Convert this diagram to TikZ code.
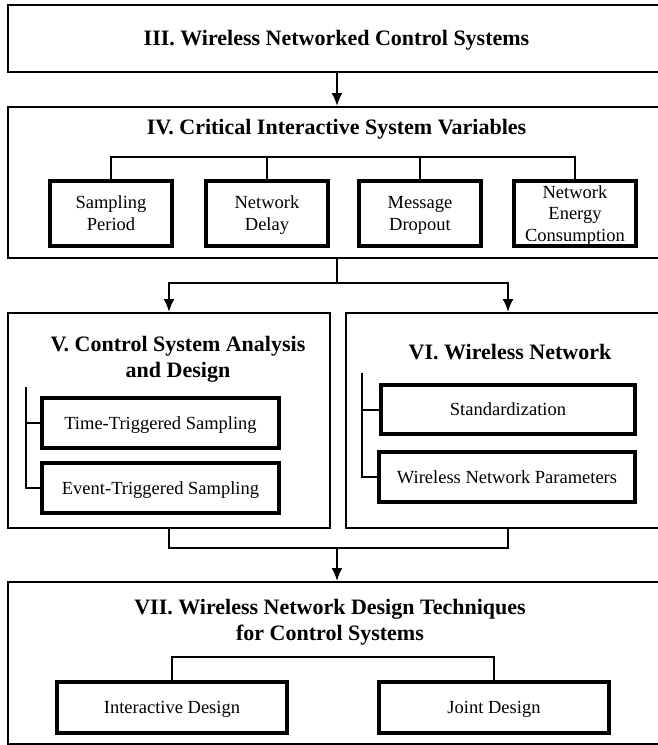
\documentclass[tikz,border=0pt]{standalone}
\usepackage{fontspec}
\setmainfont{Liberation Serif}
\usetikzlibrary{arrows.meta}
\tikzset{
  outer/.style={draw, line width=2pt, rectangle, inner sep=0pt},
  subbox/.style={draw, line width=3.2pt, rectangle, inner sep=0pt, align=center, font=\fontsize{18.5}{21.5}\selectfont, text depth=0pt},
  sub1/.style={subbox, text height=12.2pt},
  sub2/.style={subbox, text height=33.7pt},
  sub3/.style={subbox, text height=55.2pt},
  ttl/.style={align=center, inner sep=0pt, font=\fontsize{22}{26}\bfseries\selectfont, text depth=0pt},
  ttl1/.style={ttl, text height=14.9pt},
  ttl2/.style={ttl, text height=40.9pt},
  conn/.style={line width=2pt},
  arr/.style={line width=2pt, -{Latex[length=13pt,width=11pt]}}
}
\begin{document}
\begin{tikzpicture}[x=1pt,y=-1pt]
\useasboundingbox (0,0) rectangle (658,745);
\clip (0,0) rectangle (658,745);
% outer boxes
\node[outer, minimum width=657pt, minimum height=67pt] (b3) at (336.5,38.5) {};
\node[outer, minimum width=657pt, minimum height=151pt] (b4) at (336.5,182.5) {};
\node[outer, minimum width=322pt, minimum height=215pt] (b5) at (169,420.5) {};
\node[outer, minimum width=324pt, minimum height=215pt] (b6) at (508,420.5) {};
\node[outer, minimum width=657pt, minimum height=162pt] (b7) at (336.5,663) {};
% titles
\node[ttl1] (t3) at (336.5,38.5) {III. Wireless Networked Control Systems};
\node[ttl1] (t4) at (336.5,127.5) {IV. Critical Interactive System Variables};
\node[ttl2] (t5) at (178,357) {V. Control System Analysis\\and Design};
\node[ttl1] (t6) at (510,352) {VI. Wireless Network};
\node[ttl2] (t7) at (330,620) {VII. Wireless Network Design Techniques\\for Control Systems};
% IV sub boxes
\node[sub2, minimum width=122pt, minimum height=65pt] (sp) at (111,213.5) {Sampling\\Period};
\node[sub2, minimum width=122pt, minimum height=65pt] (nd) at (267,213.5) {Network\\Delay};
\node[sub2, minimum width=122pt, minimum height=65pt] (md) at (420,213.5) {Message\\Dropout};
\node[sub3, minimum width=122pt, minimum height=65pt] (ec) at (575,213.5) {Network\\Energy\\Consumption};
% V sub boxes
\node[sub1, minimum width=237pt, minimum height=50pt] (tt) at (160.5,423) {Time-Triggered Sampling};
\node[sub1, minimum width=237pt, minimum height=50pt] (et) at (160.5,488) {Event-Triggered Sampling};
% VI sub boxes
\node[sub1, minimum width=254pt, minimum height=49pt] (st) at (508,409.5) {Standardization};
\node[sub1, minimum width=256pt, minimum height=50pt] (wp) at (507,477) {Wireless Network Parameters};
% VII sub boxes
\node[sub1, minimum width=230pt, minimum height=51pt] (id) at (172,707.5) {Interactive Design};
\node[sub1, minimum width=230pt, minimum height=51pt] (jd) at (494,707.5) {Joint Design};
% coordinates
\coordinate (br4) at (0,157);
\coordinate (s4) at (337,283);
\coordinate (v5) at (26,387);
\coordinate (v6) at (362,373);
\coordinate (m56) at (337,548);
\coordinate (br7) at (0,657);
% connectors
\draw[arr] (b3.south -| s4) -- (b4.north -| s4);
\draw[conn] (sp.north) |- (br4 -| ec.north) -- (ec.north);
\draw[conn] (nd.north) -- (nd.north |- br4);
\draw[conn] (md.north) -- (md.north |- br4);
\draw[conn] (b4.south -| s4) -- (s4);
\draw[arr] (s4) -| (b5.north);
\draw[arr] (s4) -| (b6.north);
\draw[conn] (v5) |- (et.west);
\draw[conn] (tt.west) -- (tt.west -| v5);
\draw[conn] (v6) |- (wp.west);
\draw[conn] (st.west) -- (st.west -| v6);
\draw[conn] (b5.south) |- (m56) -| (b6.south);
\draw[arr] (m56) -- (b7.north -| m56);
\draw[conn] (id.north) |- (br7 -| jd.north) -- (jd.north);
\end{tikzpicture}
\end{document}
